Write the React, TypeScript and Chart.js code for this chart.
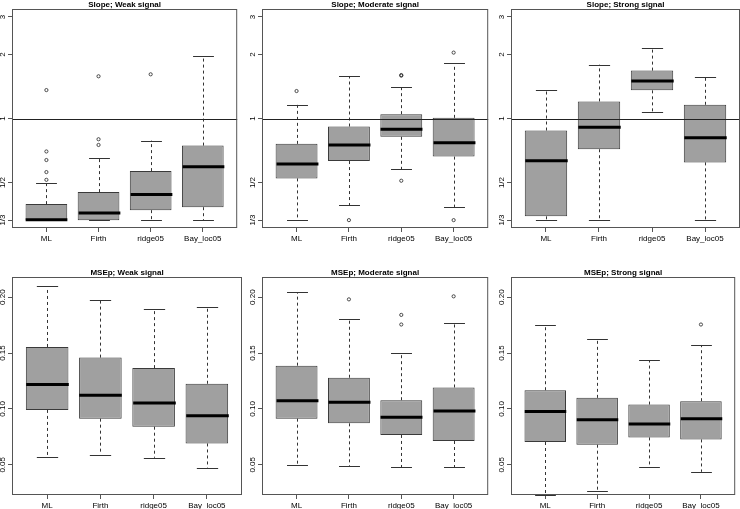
import React, { useEffect, useRef } from "react";
import { Chart, registerables } from "chart.js";

Chart.register(...registerables);

const FONT = "'Liberation Sans', Arial, Helvetica, sans-serif";

const methods = ["ML", "Firth", "ridge05", "Bay_loc05"];
const slopeTickValues = [1 / 3, 1 / 2, 1, 2, 3];
const slopeTickLabels = ["1/3", "1/2", "1", "2", "3"];
const mseTickValues = [0.05, 0.1, 0.15, 0.2];
const mseTickLabels = ["0.05", "0.10", "0.15", "0.20"];

// Slope; Weak signal
const slopeWeakLow = [0.333, 0.333, 0.333, 0.333];
const slopeWeakQ1 = [0.333, 0.333, 0.371, 0.383];
const slopeWeakMed = [0.334, 0.36, 0.439, 0.593];
const slopeWeakQ3 = [0.396, 0.451, 0.566, 0.746];
const slopeWeakHigh = [0.5, 0.652, 0.787, 1.968];
const slopeWeakOut = [[1, 0.515], [1, 0.56], [1, 0.638], [1, 0.7], [1, 1.36], [2, 0.751], [2, 0.799], [2, 1.579], [3, 1.613]];

// Slope; Moderate signal
const slopeModLow = [0.333, 0.391, 0.579, 0.384];
const slopeModQ1 = [0.523, 0.631, 0.82, 0.662];
const slopeModMed = [0.611, 0.751, 0.89, 0.77];
const slopeModQ3 = [0.76, 0.917, 1.048, 1.007];
const slopeModHigh = [1.16, 1.584, 1.4, 1.82];
const slopeModOut = [[1, 1.346], [2, 0.333], [3, 1.59], [3, 1.6], [3, 0.51], [4, 2.04], [4, 0.333]];

// Slope; Strong signal
const slopeStrLow = [0.333, 0.333, 1.071, 0.333];
const slopeStrQ1 = [0.347, 0.717, 1.356, 0.622];
const slopeStrMed = [0.633, 0.91, 1.5, 0.813];
const slopeStrQ3 = [0.878, 1.203, 1.679, 1.16];
const slopeStrHigh = [1.366, 1.79, 2.15, 1.573];
const slopeStrOut: number[][] = [];

// MSEp; Weak signal
const mseWeakLow = [0.0569, 0.0592, 0.0563, 0.0473];
const mseWeakQ1 = [0.0991, 0.0913, 0.0841, 0.0691];
const mseWeakMed = [0.1219, 0.1123, 0.1054, 0.094];
const mseWeakQ3 = [0.1554, 0.1459, 0.1365, 0.1225];
const mseWeakHigh = [0.2099, 0.1973, 0.1893, 0.1908];
const mseWeakOut: number[][] = [];

// MSEp; Moderate signal
const mseModLow = [0.05, 0.0485, 0.0479, 0.0479];
const mseModQ1 = [0.0913, 0.0871, 0.0767, 0.0713];
const mseModMed = [0.1072, 0.106, 0.0925, 0.0982];
const mseModQ3 = [0.1387, 0.1279, 0.1078, 0.1192];
const mseModHigh = [0.2042, 0.1803, 0.1497, 0.1773];
const mseModOut = [[2, 0.198], [3, 0.1841], [3, 0.1755], [4, 0.2007]];

// MSEp; Strong signal
const mseStrLow = [0.0232, 0.0263, 0.0479, 0.0437];
const mseStrQ1 = [0.0704, 0.068, 0.0745, 0.0727];
const mseStrMed = [0.0976, 0.0904, 0.0866, 0.0913];
const mseStrQ3 = [0.1167, 0.1099, 0.1039, 0.1069];
const mseStrHigh = [0.1755, 0.1629, 0.1437, 0.1572];
const mseStrOut = [[4, 0.1755]];

type PanelProps = {
  title: string;
  log: boolean;
  low: number[];
  q1: number[];
  med: number[];
  q3: number[];
  high: number[];
  out: number[][];
  tickValues: number[];
  tickLabels: string[];
  yMin: number;
  yMax: number;
  refLine: boolean;
  left: number;
  top: number;
  width: number;
  height: number;
  axisH: number;
};

function Panel(p: PanelProps) {
  const ref = useRef<HTMLCanvasElement | null>(null);
  useEffect(() => {
    if (!ref.current) return;
    const px = (v: number) => Math.round(v) + 0.5;
    const plugin = {
      id: "boxExtras",
      afterDatasetsDraw(chart: any) {
        const { ctx, chartArea: a } = chart;
        const x = chart.scales.x;
        const y = chart.scales.y;
        const meta = chart.getDatasetMeta(0);
        ctx.save();
        for (let i = 0; i < methods.length; i++) {
          const el: any = meta.data[i];
          const w = el.width;
          const cx = px(x.getPixelForValue(i + 1));
          const yLow = y.getPixelForValue(p.low[i]);
          const yQ1 = y.getPixelForValue(p.q1[i]);
          const yMed = y.getPixelForValue(p.med[i]);
          const yQ3 = y.getPixelForValue(p.q3[i]);
          const yHigh = y.getPixelForValue(p.high[i]);
          ctx.strokeStyle = "#333";
          ctx.lineWidth = 1;
          ctx.setLineDash([3, 3]);
          ctx.beginPath();
          ctx.moveTo(cx, yQ3);
          ctx.lineTo(cx, yHigh);
          ctx.moveTo(cx, yQ1);
          ctx.lineTo(cx, yLow);
          ctx.stroke();
          ctx.setLineDash([]);
          ctx.beginPath();
          ctx.moveTo(cx - w / 4, px(yHigh));
          ctx.lineTo(cx + w / 4, px(yHigh));
          ctx.moveTo(cx - w / 4, px(yLow));
          ctx.lineTo(cx + w / 4, px(yLow));
          ctx.stroke();
          ctx.strokeStyle = "#000";
          ctx.lineWidth = 3;
          ctx.beginPath();
          ctx.moveTo(cx - w / 2, yMed);
          ctx.lineTo(cx + w / 2, yMed);
          ctx.stroke();
        }
        if (p.refLine) {
          const yr = px(y.getPixelForValue(1));
          ctx.strokeStyle = "#222";
          ctx.lineWidth = 1;
          ctx.beginPath();
          ctx.moveTo(a.left, yr);
          ctx.lineTo(a.right, yr);
          ctx.stroke();
        }
        ctx.restore();
      },
      afterDraw(chart: any) {
        const { ctx, chartArea: a } = chart;
        const y = chart.scales.y;
        ctx.save();
        ctx.strokeStyle = "#555";
        ctx.lineWidth = 1;
        ctx.strokeRect(a.left + 0.5, a.top + 0.5, a.right - a.left - 1, a.bottom - a.top - 1);
        ctx.fillStyle = "#000";
        ctx.font = `bold 8px ${FONT}`;
        ctx.textAlign = "center";
        ctx.textBaseline = "alphabetic";
        ctx.fillText(p.title, (a.left + a.right) / 2, a.top - 2.5);
        ctx.font = `8px ${FONT}`;
        ctx.textBaseline = "middle";
        for (let i = 0; i < p.tickValues.length; i++) {
          const ty = y.getPixelForValue(p.tickValues[i]);
          ctx.save();
          ctx.translate(a.left - 9.5, ty);
          ctx.rotate(-Math.PI / 2);
          ctx.fillText(p.tickLabels[i], 0, 0);
          ctx.restore();
        }
        ctx.restore();
      },
    };

    const chart = new Chart(ref.current, {
      type: "bar",
      data: {
        datasets: [
          {
            type: "bar",
            data: methods.map((_, i) => ({ x: i + 1, y: [p.q1[i], p.q3[i]] })) as any,
            backgroundColor: "#a0a0a0",
            borderColor: "#3a3a3a",
            borderWidth: 1,
            borderSkipped: false,
            barPercentage: 0.8,
            categoryPercentage: 1,
          } as any,
          {
            type: "scatter",
            data: p.out.map((o) => ({ x: o[0], y: o[1] })),
            pointStyle: "circle",
            radius: 1.6,
            borderWidth: 0.8,
            borderColor: "#222",
            backgroundColor: "rgba(0,0,0,0)",
          } as any,
        ],
      },
      options: {
        responsive: false,
        animation: false,
        events: [],
        layout: { padding: { top: 9, left: 0, right: 0, bottom: 0 } },
        plugins: { legend: { display: false }, tooltip: { enabled: false }, title: { display: false } },
        scales: {
          x: {
            type: "linear",
            min: 0.34,
            max: 4.66,
            bounds: "data",
            offset: false,
            afterBuildTicks: (s: any) => {
              s.ticks = methods.map((_, i) => ({ value: i + 1 }));
            },
            afterFit: (s: any) => {
              s.height = p.axisH;
            },
            ticks: {
              callback: (v: any) => methods[Math.round(Number(v)) - 1],
              autoSkip: false,
              maxRotation: 0,
              minRotation: 0,
              padding: 2,
              color: "#000",
              font: { family: FONT, size: 8 },
            },
            grid: { drawOnChartArea: false, offset: false, tickLength: 4, color: "#555", tickColor: "#555" },
            border: { display: false },
          },
          y: {
            type: p.log ? "logarithmic" : "linear",
            min: p.yMin,
            max: p.yMax,
            bounds: "data",
            afterBuildTicks: (s: any) => {
              s.ticks = p.tickValues.map((v) => ({ value: v }));
            },
            afterFit: (s: any) => {
              s.width = 12;
            },
            ticks: { display: false },
            grid: { drawOnChartArea: false, tickLength: 4, color: "#555", tickColor: "#555" },
            border: { display: false },
          },
        },
      } as any,
      plugins: [plugin as any],
    });
    return () => chart.destroy();
  }, []);
  return (
    <canvas
      ref={ref}
      width={p.width}
      height={p.height}
      style={{ position: "absolute", left: p.left, top: p.top, width: p.width, height: p.height }}
    />
  );
}

const colLefts = [0, 250, 499];
const colWidths = [242, 243, 241];
const slopeMin = 1 / 3.27;
const slopeMax = 3.27;
const mseMin = 0.023;
const mseMax = 0.218;

export default function App() {
  const top = { top: 0, height: 254, axisH: 26 };
  const bot = { top: 268, height: 241, axisH: 14 };
  const slopeCommon = { log: true, tickValues: slopeTickValues, tickLabels: slopeTickLabels, yMin: slopeMin, yMax: slopeMax, refLine: true };
  const mseCommon = { log: false, tickValues: mseTickValues, tickLabels: mseTickLabels, yMin: mseMin, yMax: mseMax, refLine: false };
  return (
    <div style={{ position: "absolute", left: 0, top: 0, width: 740, height: 509, overflow: "hidden", background: "#fff" }}>
      <Panel title="Slope; Weak signal" {...slopeCommon} low={slopeWeakLow} q1={slopeWeakQ1} med={slopeWeakMed} q3={slopeWeakQ3} high={slopeWeakHigh} out={slopeWeakOut} left={colLefts[0]} width={colWidths[0]} {...top} />
      <Panel title="Slope; Moderate signal" {...slopeCommon} low={slopeModLow} q1={slopeModQ1} med={slopeModMed} q3={slopeModQ3} high={slopeModHigh} out={slopeModOut} left={colLefts[1]} width={colWidths[1]} {...top} />
      <Panel title="Slope; Strong signal" {...slopeCommon} low={slopeStrLow} q1={slopeStrQ1} med={slopeStrMed} q3={slopeStrQ3} high={slopeStrHigh} out={slopeStrOut} left={colLefts[2]} width={colWidths[2]} {...top} />
      <Panel title="MSEp; Weak signal" {...mseCommon} low={mseWeakLow} q1={mseWeakQ1} med={mseWeakMed} q3={mseWeakQ3} high={mseWeakHigh} out={mseWeakOut} left={colLefts[0]} width={colWidths[0]} {...bot} />
      <Panel title="MSEp; Moderate signal" {...mseCommon} low={mseModLow} q1={mseModQ1} med={mseModMed} q3={mseModQ3} high={mseModHigh} out={mseModOut} left={colLefts[1]} width={colWidths[1]} {...bot} />
      <Panel title="MSEp; Strong signal" {...mseCommon} low={mseStrLow} q1={mseStrQ1} med={mseStrMed} q3={mseStrQ3} high={mseStrHigh} out={mseStrOut} left={colLefts[2]} width={colWidths[2]} {...bot} />
    </div>
  );
}
